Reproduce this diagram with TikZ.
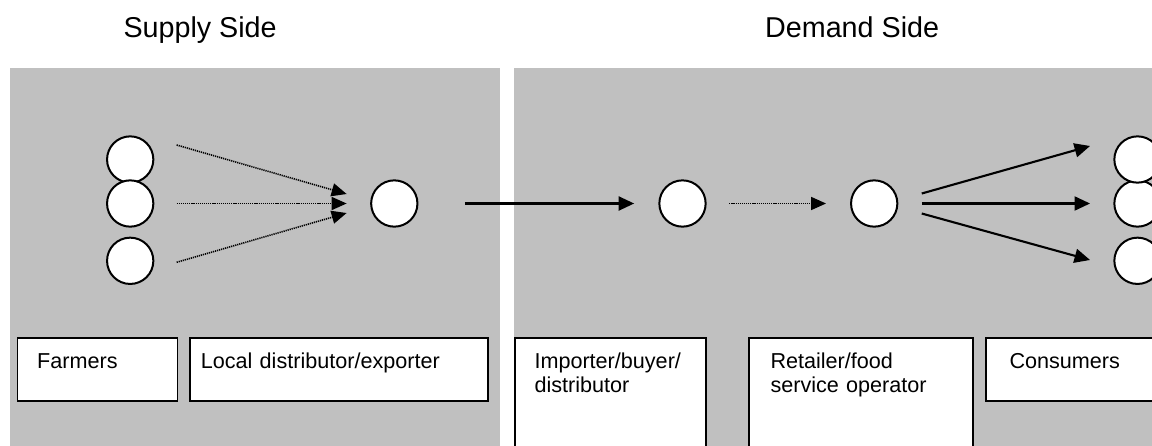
\documentclass[tikz,border=0pt]{standalone}
\usepackage{fontspec}
\setmainfont{Liberation Sans}
\usetikzlibrary{arrows.meta}
\definecolor{panelgray}{HTML}{C0C0C0}
\begin{document}
\begin{tikzpicture}[x=1pt,y=-1pt,
  panel/.style={fill=panelgray,draw=none},
  actor/.style={circle,draw=black,fill=white,line width=2pt,minimum size=46.3pt,inner sep=0pt},
  rolebox/.style={draw=black,fill=white,line width=1.9pt,anchor=north west,inner sep=0pt,outer sep=0pt},
  rolelabel/.style={anchor=base west,inner sep=0pt,font=\fontsize{21.6}{24}\selectfont,text width=320pt,align=left},
  heading/.style={anchor=base west,inner sep=0pt,font=\fontsize{28.7}{34}\selectfont},
  flow/.style={line width=2.1pt,-{Triangle[length=15.5pt,width=14pt]}},
  dotflow/.style={line width=1.6pt,dash pattern=on 1.2pt off 0.9pt,-{Triangle[length=15pt,width=13pt]}},
]
\useasboundingbox (0,0) rectangle (1152,445);
\clip (0,0) rectangle (1152,445);
\fill[white] (0,0) rectangle (1152,445);

% panels
\path[panel] (9.6,68.3) rectangle (500,460);
\path[panel] (514,68.3) rectangle (1170,460);

% headings
\node[heading] (supply) at (123.3,37.3) {Supply Side};
\node[heading] (demand) at (765,37.3) {Demand Side};

% role boxes
\node[rolebox,minimum width=160pt,minimum height=62.6pt] (farmbox) at (17.5,338.2) {};
\node[rolebox,minimum width=298.2pt,minimum height=62.6pt] (locbox) at (190.2,338.2) {};
\node[rolebox,minimum width=191pt,minimum height=130pt] (impbox) at (514.9,338.2) {};
\node[rolebox,minimum width=224pt,minimum height=130pt] (retbox) at (749.2,338.2) {};
\node[rolebox,minimum width=200pt,minimum height=62.6pt] (conbox) at (985.9,338.2) {};

\node[rolelabel] (farmtxt) at (37,368.2) {Farmers};
\node[rolelabel] (loctxt) at (200.7,368.2) {Local distributor/exporter};
\node[rolelabel] (imptxt) at (534.3,368.5) {Importer/buyer/\\distributor};
\node[rolelabel] (rettxt) at (770.3,368.5) {Retailer/food\\service operator};
\node[rolelabel] (contxt) at (1009.3,368.5) {Consumers};

% actors
\node[actor] (f1) at (130.2,159.5) {};
\node[actor] (f2) at (130.2,203.5) {};
\node[actor] (f3) at (130.2,260.8) {};
\node[actor] (loc) at (394.3,203.5) {};
\node[actor] (imp) at (682.5,203.5) {};
\node[actor] (ret) at (874.2,203.5) {};
\node[actor] (c2) at (1137.5,203.5) {};
\node[actor] (c1) at (1137.5,159.5) {};
\node[actor] (c3) at (1137.5,260.8) {};

% flows
\draw[dotflow] ([shift={(22.3,-14.5)}]f1.east) -- ([shift={(-23.5,-9.5)}]loc.west);
\draw[dotflow] ([xshift=22.3pt]f2.east) -- ([xshift=-23.5pt]loc.west);
\draw[dotflow] ([shift={(22.3,1.5)}]f3.east) -- ([shift={(-23.5,9.5)}]loc.west);

\draw[flow] ([xshift=46.5pt]loc.east) -- ([xshift=-24.2pt]imp.west);
\draw[dotflow] ([xshift=22.6pt]imp.east) -- ([xshift=-24pt]ret.west);

\draw[flow] ([shift={(23.4,-10)}]ret.east) -- ([shift={(-23.3,-13.5)}]c1.west);
\draw[flow] ([xshift=23.4pt]ret.east) -- ([xshift=-23.3pt]c2.west);
\draw[flow] ([shift={(23.4,10)}]ret.east) -- ([shift={(-23.3,-0.8)}]c3.west);
\end{tikzpicture}
\end{document}
